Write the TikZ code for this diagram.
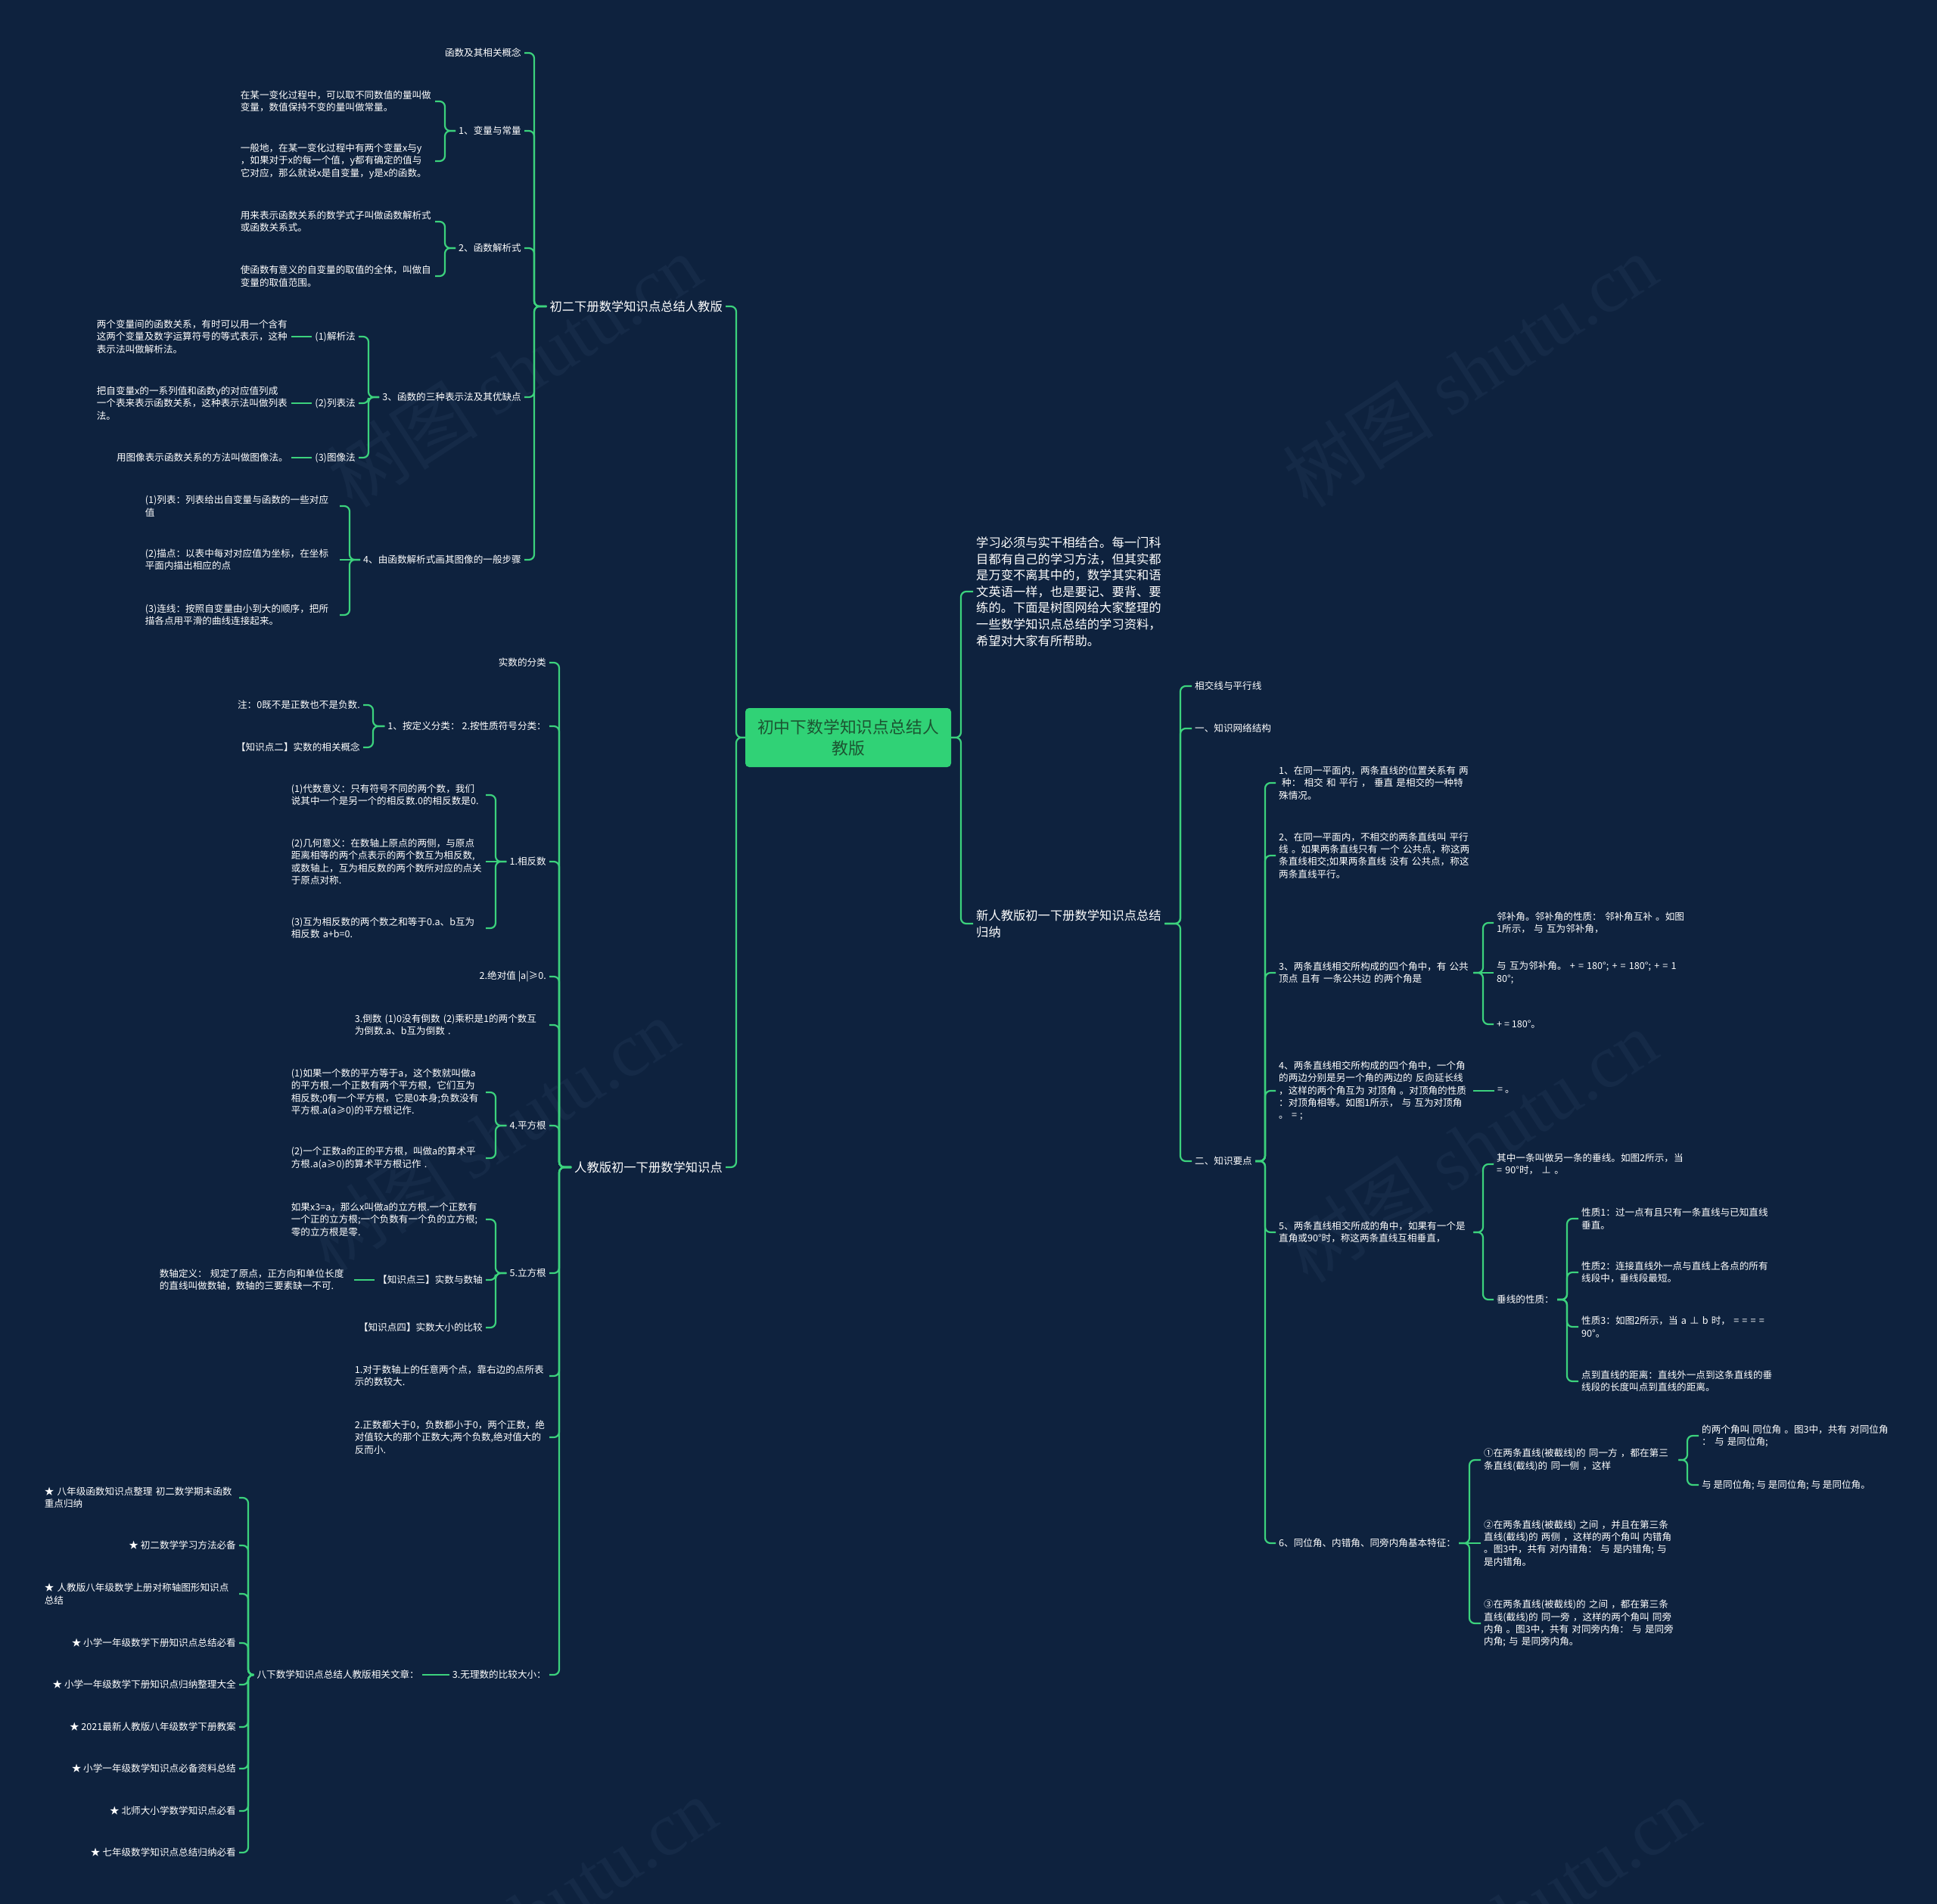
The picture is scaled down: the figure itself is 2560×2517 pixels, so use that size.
\documentclass[tikz,border=0pt]{standalone}
\usepackage{fontspec}
\setmainfont{Noto Sans CJK SC}
\newfontfamily\wmserif{Liberation Serif}
\definecolor{bgc}{RGB}{14,34,62}
\definecolor{lnc}{RGB}{60,210,125}
\definecolor{rootc}{RGB}{48,210,118}
\definecolor{roottxt}{RGB}{28,85,50}
\definecolor{wmc}{RGB}{21,42,71}
\newcommand\mmcon[3]{\draw[conn] (#1.east) -- (#1.east -| #2) |- (#3.west);}
\newcommand\mmline[2]{\draw[conn] (#1.east) -- (#2.west);}
\begin{document}
\begin{tikzpicture}[x=1pt,y=-1pt,
  conn/.style={draw=lnc, line width=2.2pt, rounded corners=7pt},
  t/.style={text=white, inner xsep=4pt, inner ysep=1pt, align=left, font=\fontsize{12.6}{16.3}\selectfont},
  w/.style={t, text width=253pt},
  m/.style={text=white, inner xsep=4pt, inner ysep=1pt, align=left, font=\fontsize{16.3}{21.6}\selectfont},
  mw/.style={m, text width=245pt},
  L/.style={anchor=east}, R/.style={anchor=west},
  rootn/.style={fill=rootc, rounded corners=5pt, minimum width=272pt, minimum height=78pt, align=center, text=roottxt, font=\fontsize{21.8}{27.8}\selectfont, inner sep=0pt},
  wm/.style={text=wmc, rotate=33, font=\fontsize{100}{100}\selectfont}]
\useasboundingbox (0,0) rectangle (2560,2517);
\fill[bgc] (0,0) rectangle (2560,2517);
% watermarks
\node[wm] (w1) at (680,490) {树图 {\wmserif shutu.cn}};
\node[wm] (w2) at (1943,490) {树图 {\wmserif shutu.cn}};
\node[wm] (w3) at (650,1500) {树图 {\wmserif shutu.cn}};
\node[wm] (w4) at (1943,1515) {树图 {\wmserif shutu.cn}};
\node[wm] (w5) at (700,2530) {树图 {\wmserif shutu.cn}};
\node[wm] (w6) at (2000,2530) {树图 {\wmserif shutu.cn}};
% spines
\coordinate (sL) at (973,0);
\coordinate (sR) at (1270,0);
\coordinate (sA) at (706,0);
\coordinate (sa2) at (588,0);
\coordinate (sa4) at (487,0);
\coordinate (sa5) at (462,0);
\coordinate (sB) at (739,0);
\coordinate (sb2) at (493,0);
\coordinate (sb3) at (655,0);
\coordinate (sb10) at (328,0);
\coordinate (sD) at (1560,0);
\coordinate (sd3) at (1672,0);
\coordinate (se3) at (1960,0);
\coordinate (sf) at (2071,0);
\coordinate (se6) at (1942,0);
\coordinate (sg1) at (2230,0);
% root
\node[rootn] (root) at (1121,975) {初中下数学知识点总结人\\教版};
% main branches
\node[m,L] (A) at (959,405) {初二下册数学知识点总结人教版};
\node[m,L] (B) at (959,1543) {人教版初一下册数学知识点};
\node[mw,R] (C) at (1286,782) {学习必须与实干相结合。每一门科\\目都有自己的学习方法，但其实都\\是万变不离其中的，数学其实和语\\文英语一样，也是要记、要背、要\\练的。下面是树图网给大家整理的\\一些数学知识点总结的学习资料，\\希望对大家有所帮助。};
\node[mw,R] (D) at (1286,1221) {新人教版初一下册数学知识点总结\\归纳};
% A subtree
\node[t,L] (a1) at (693,70) {函数及其相关概念};
\node[t,L] (a2) at (693,173) {1、变量与常量};
\node[t,L] (a3) at (693,328) {2、函数解析式};
\node[t,L] (a4) at (693,525) {3、函数的三种表示法及其优缺点};
\node[t,L] (a5) at (693,740) {4、由函数解析式画其图像的一般步骤};
\node[w,L] (a2a) at (575,134) {在某一变化过程中，可以取不同数值的量叫做\\变量，数值保持不变的量叫做常量。};
\node[w,L] (a2b) at (575,213) {一般地，在某一变化过程中有两个变量x与y\\，如果对于x的每一个值，y都有确定的值与\\它对应，那么就说x是自变量，y是x的函数。};
\node[w,L] (a3a) at (575,293) {用来表示函数关系的数学式子叫做函数解析式\\或函数关系式。};
\node[w,L] (a3b) at (575,365) {使函数有意义的自变量的取值的全体，叫做自\\变量的取值范围。};
\node[t,L] (a4a) at (474,445) {(1)解析法};
\node[t,L] (a4b) at (474,533) {(2)列表法};
\node[t,L] (a4c) at (474,605) {(3)图像法};
\node[w,L] (a4ac) at (385,445) {两个变量间的函数关系，有时可以用一个含有\\这两个变量及数字运算符号的等式表示，这种\\表示法叫做解析法。};
\node[w,L] (a4bc) at (385,533) {把自变量x的一系列值和函数y的对应值列成\\一个表来表示函数关系，这种表示法叫做列表\\法。};
\node[t,L] (a4cc) at (385,605) {用图像表示函数关系的方法叫做图像法。};
\node[w,L] (a5a) at (449,669) {(1)列表：列表给出自变量与函数的一些对应\\值};
\node[w,L] (a5b) at (449,740) {(2)描点：以表中每对对应值为坐标，在坐标\\平面内描出相应的点};
\node[w,L] (a5c) at (449,813) {(3)连线：按照自变量由小到大的顺序，把所\\描各点用平滑的曲线连接起来。};
% B subtree
\node[t,L] (b1) at (726,876) {实数的分类};
\node[t,L] (b2) at (726,960) {1、按定义分类： 2.按性质符号分类：};
\node[t,L] (b3) at (726,1139) {1.相反数};
\node[t,L] (b4) at (726,1291) {2.绝对值 |a|≥0.};
\node[w,L] (b5) at (726,1355) {3.倒数 (1)0没有倒数 (2)乘积是1的两个数互\\为倒数.a、b互为倒数 .};
\node[t,L] (b6) at (726,1488) {4.平方根};
\node[t,L] (b7) at (726,1683) {5.立方根};
\node[w,L] (b8) at (726,1819) {1.对于数轴上的任意两个点，靠右边的点所表\\示的数较大.};
\node[w,L] (b9) at (726,1900) {2.正数都大于0，负数都小于0，两个正数，绝\\对值较大的那个正数大;两个负数,绝对值大的\\反而小.};
\node[t,L] (b10) at (726,2214) {3.无理数的比较大小：};
\node[t,L] (b2a) at (480,932) {注：0既不是正数也不是负数.};
\node[t,L] (b2b) at (480,988) {【知识点二】实数的相关概念};
\node[w,L] (b3a) at (642,1051) {(1)代数意义：只有符号不同的两个数，我们\\说其中一个是另一个的相反数.0的相反数是0.};
\node[w,L] (b3b) at (642,1139) {(2)几何意义：在数轴上原点的两侧，与原点\\距离相等的两个点表示的两个数互为相反数,\\或数轴上，互为相反数的两个数所对应的点关\\于原点对称.};
\node[w,L] (b3c) at (642,1227) {(3)互为相反数的两个数之和等于0.a、b互为\\相反数 a+b=0.};
\node[w,L] (b6a) at (642,1444) {(1)如果一个数的平方等于a，这个数就叫做a\\的平方根.一个正数有两个平方根，它们互为\\相反数;0有一个平方根，它是0本身;负数没有\\平方根.a(a≥0)的平方根记作.};
\node[w,L] (b6b) at (642,1531) {(2)一个正数a的正的平方根，叫做a的算术平\\方根.a(a≥0)的算术平方根记作 .};
\node[w,L] (b7a) at (642,1612) {如果x3=a，那么x叫做a的立方根.一个正数有\\一个正的立方根;一个负数有一个负的立方根;\\零的立方根是零.};
\node[t,L] (b7b) at (642,1692) {【知识点三】实数与数轴};
\node[t,L] (b7c) at (642,1755) {【知识点四】实数大小的比较};
\node[w,L] (b7bc) at (468,1692) {数轴定义： 规定了原点，正方向和单位长度\\的直线叫做数轴，数轴的三要素缺一不可.};
\node[t,L] (b10c) at (558,2214) {八下数学知识点总结人教版相关文章：};
\node[w,L] (l1) at (316,1980) {★ 八年级函数知识点整理 初二数学期末函数\\重点归纳};
\node[t,L] (l2) at (316,2043) {★ 初二数学学习方法必备};
\node[w,L] (l3) at (316,2107) {★ 人教版八年级数学上册对称轴图形知识点\\总结};
\node[t,L] (l4) at (316,2172) {★ 小学一年级数学下册知识点总结必看};
\node[t,L] (l5) at (316,2227) {★ 小学一年级数学下册知识点归纳整理大全};
\node[t,L] (l6) at (316,2283) {★ 2021最新人教版八年级数学下册教案};
\node[t,L] (l7) at (316,2338) {★ 小学一年级数学知识点必备资料总结};
\node[t,L] (l8) at (316,2394) {★ 北师大小学数学知识点必看};
\node[t,L] (l9) at (316,2449) {★ 七年级数学知识点总结归纳必看};
% D subtree
\node[t,R] (d1) at (1575,907) {相交线与平行线};
\node[t,R] (d2) at (1575,963) {一、知识网络结构};
\node[t,R] (d3) at (1575,1535) {二、知识要点};
\node[w,R] (e1) at (1686,1035) {1、在同一平面内，两条直线的位置关系有 两\\\hspace*{4pt}种： 相交 和 平行 ， 垂直 是相交的一种特\\殊情况。};
\node[w,R] (e2) at (1686,1131) {2、在同一平面内，不相交的两条直线叫 平行\\线 。如果两条直线只有 一个 公共点，称这两\\条直线相交;如果两条直线 没有 公共点，称这\\两条直线平行。};
\node[w,R] (e3) at (1686,1286) {3、两条直线相交所构成的四个角中，有 公共\\顶点 且有 一条公共边 的两个角是};
\node[w,R] (e4) at (1686,1442) {4、两条直线相交所构成的四个角中，一个角\\的两边分别是另一个角的两边的 反向延长线\\，这样的两个角互为 对顶角 。对顶角的性质\\：对顶角相等。如图1所示， 与 互为对顶角\\。 = ;};
\node[w,R] (e5) at (1686,1629) {5、两条直线相交所成的角中，如果有一个是\\直角或90°时，称这两条直线互相垂直，};
\node[t,R] (e6) at (1686,2040) {6、同位角、内错角、同旁内角基本特征：};
\node[w,R] (e3a) at (1974,1220) {邻补角。邻补角的性质： 邻补角互补 。如图\\1所示， 与 互为邻补角，};
\node[w,R] (e3b) at (1974,1286) {与 互为邻补角。 + = 180°; + = 180°; + = 1\\80°;};
\node[t,R] (e3c) at (1974,1354) {+ = 180°。};
\node[t,R] (e4c) at (1975,1442) {= 。};
\node[w,R] (e5a) at (1974,1539) {其中一条叫做另一条的垂线。如图2所示，当\\= 90°时， ⊥ 。};
\node[t,R] (e5b) at (1974,1718) {垂线的性质：};
\node[w,R] (f1) at (2086,1611) {性质1：过一点有且只有一条直线与已知直线\\垂直。};
\node[w,R] (f2) at (2086,1682) {性质2：连接直线外一点与直线上各点的所有\\线段中，垂线段最短。};
\node[w,R] (f3) at (2086,1754) {性质3：如图2所示，当 a ⊥ b 时， = = = = \\90°。};
\node[w,R] (f4) at (2086,1826) {点到直线的距离：直线外一点到这条直线的垂\\线段的长度叫点到直线的距离。};
\node[w,R] (g1) at (1957,1930) {①在两条直线(被截线)的 同一方 ，都在第三\\条直线(截线)的 同一侧 ，这样};
\node[w,R] (g2) at (1957,2040) {②在两条直线(被截线) 之间 ，并且在第三条\\直线(截线)的 两侧 ，这样的两个角叫 内错角\\。图3中，共有 对内错角： 与 是内错角; 与\\是内错角。};
\node[w,R] (g3) at (1957,2146) {③在两条直线(被截线)的 之间 ，都在第三条\\直线(截线)的 同一旁 ，这样的两个角叫 同旁\\内角 。图3中，共有 对同旁内角： 与 是同旁\\内角; 与 是同旁内角。};
\node[w,R] (g1a) at (2245,1898) {的两个角叫 同位角 。图3中，共有 对同位角\\： 与 是同位角;};
\node[t,R] (g1b) at (2245,1963) {与 是同位角; 与 是同位角; 与 是同位角。};
% connectors: root
\mmcon{A}{sL}{root}
\mmcon{B}{sL}{root}
\mmcon{root}{sR}{C}
\mmcon{root}{sR}{D}
% A
\mmcon{a1}{sA}{A}
\mmcon{a2}{sA}{A}
\mmcon{a3}{sA}{A}
\mmcon{a4}{sA}{A}
\mmcon{a5}{sA}{A}
\mmcon{a2a}{sa2}{a2}
\mmcon{a2b}{sa2}{a2}
\mmcon{a3a}{sa2}{a3}
\mmcon{a3b}{sa2}{a3}
\mmcon{a4a}{sa4}{a4}
\mmcon{a4b}{sa4}{a4}
\mmcon{a4c}{sa4}{a4}
\mmline{a4ac}{a4a}
\mmline{a4bc}{a4b}
\mmline{a4cc}{a4c}
\mmcon{a5a}{sa5}{a5}
\mmline{a5b}{a5}
\mmcon{a5c}{sa5}{a5}
% B
\mmcon{b1}{sB}{B}
\mmcon{b2}{sB}{B}
\mmcon{b3}{sB}{B}
\mmcon{b4}{sB}{B}
\mmcon{b5}{sB}{B}
\mmcon{b6}{sB}{B}
\mmcon{b7}{sB}{B}
\mmcon{b8}{sB}{B}
\mmcon{b9}{sB}{B}
\mmcon{b10}{sB}{B}
\mmcon{b2a}{sb2}{b2}
\mmcon{b2b}{sb2}{b2}
\mmcon{b3a}{sb3}{b3}
\mmline{b3b}{b3}
\mmcon{b3c}{sb3}{b3}
\mmcon{b6a}{sb3}{b6}
\mmcon{b6b}{sb3}{b6}
\mmcon{b7a}{sb3}{b7}
\mmcon{b7b}{sb3}{b7}
\mmcon{b7c}{sb3}{b7}
\mmline{b7bc}{b7b}
\mmline{b10c}{b10}
\mmcon{l1}{sb10}{b10c}
\mmcon{l2}{sb10}{b10c}
\mmcon{l3}{sb10}{b10c}
\mmcon{l4}{sb10}{b10c}
\mmcon{l5}{sb10}{b10c}
\mmcon{l6}{sb10}{b10c}
\mmcon{l7}{sb10}{b10c}
\mmcon{l8}{sb10}{b10c}
\mmcon{l9}{sb10}{b10c}
% D
\mmcon{D}{sD}{d1}
\mmcon{D}{sD}{d2}
\mmcon{D}{sD}{d3}
\mmcon{d3}{sd3}{e1}
\mmcon{d3}{sd3}{e2}
\mmcon{d3}{sd3}{e3}
\mmcon{d3}{sd3}{e4}
\mmcon{d3}{sd3}{e5}
\mmcon{d3}{sd3}{e6}
\mmcon{e3}{se3}{e3a}
\mmline{e3}{e3b}
\mmcon{e3}{se3}{e3c}
\mmline{e4}{e4c}
\mmcon{e5}{se3}{e5a}
\mmcon{e5}{se3}{e5b}
\mmcon{e5b}{sf}{f1}
\mmcon{e5b}{sf}{f2}
\mmcon{e5b}{sf}{f3}
\mmcon{e5b}{sf}{f4}
\mmcon{e6}{se6}{g1}
\mmline{e6}{g2}
\mmcon{e6}{se6}{g3}
\mmcon{g1}{sg1}{g1a}
\mmcon{g1}{sg1}{g1b}
\end{tikzpicture}
\end{document}
